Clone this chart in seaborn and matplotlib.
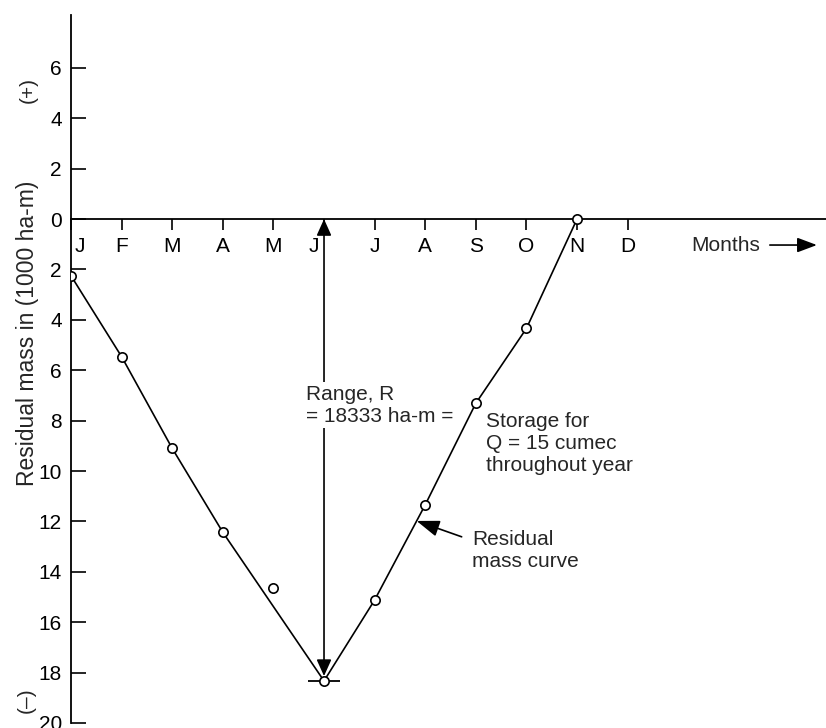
import numpy as np
import pandas as pd
import seaborn as sns
import matplotlib.pyplot as plt
import matplotlib.transforms as mtransforms

# mois (axe x) et courbe des masses résiduelles (1000 ha-m, positif vers le bas)
month_labels = ['J', 'F', 'M', 'A', 'M', 'J', 'J', 'A', 'S', 'O', 'N', 'D']
point_month = [0, 1, 2, 3, 4, 5, 6, 7, 8, 9, 10]
residual_mass = [2.25, 5.46, 9.1, 12.43, 14.63, 18.33, 15.12, 11.34, 7.31, 4.34, 0.0]
on_curve = [True, True, True, True, False, True, True, True, True, True, True]
y_ticks = [-6, -4, -2, 0, 2, 4, 6, 8, 10, 12, 14, 16, 18, 20]

df = pd.DataFrame({'month': point_month, 'mass': residual_mass, 'curve': on_curve})
curve = df[df['curve']]
low = df.loc[df['mass'].idxmax()]

sns.set_style('ticks')
plt.rcParams['font.family'] = ['Liberation Sans', 'DejaVu Sans']
plt.rcParams['font.size'] = 15

fig = plt.figure(figsize=(8.26, 7.28), dpi=100)
ax = fig.add_axes([71 / 826, 5 / 728, 755 / 826, 708 / 728])

sns.lineplot(data=curve, x='month', y='mass', color='black', linewidth=1.2, ax=ax, zorder=3)
sns.scatterplot(data=df, x='month', y='mass', s=45, facecolor='white', edgecolor='black',
                linewidth=1.2, ax=ax, zorder=4)
ax.plot([low['month']], [low['mass']], marker='_', markersize=23, mew=1.3, color='black', zorder=3)

ax.set_xlim(0, 14.92)
ax.set_ylim(20, -8.1)

# axes
for s in ['top', 'right']:
    ax.spines[s].set_visible(False)
ax.spines['bottom'].set_position(('data', 0))
for s in ['left', 'bottom']:
    ax.spines[s].set_linewidth(1.3)
    ax.spines[s].set_color('black')

ax.set_xticks(range(12))
ax.set_xticklabels(month_labels)
ax.tick_params(axis='x', direction='out', length=8, width=1.2, pad=5, labelsize=15, colors='black')
ax.set_yticks(y_ticks)
ax.set_yticklabels([str(abs(v)) for v in y_ticks])
ax.tick_params(axis='y', direction='in', length=11, width=1.2, pad=6.5, labelsize=15, colors='black')
ax.set_xlabel('')
ax.set_ylabel('')

# décaler les étiquettes J (janvier) et J (juin)
xl = ax.get_xticklabels()
xl[0].set_transform(xl[0].get_transform() + mtransforms.ScaledTranslation(0.09, 0, fig.dpi_scale_trans))
xl[5].set_transform(xl[5].get_transform() + mtransforms.ScaledTranslation(-0.10, 0, fig.dpi_scale_trans))

# flèche de la plage R
ax.annotate('', xy=(low['month'], 0), xytext=(low['month'], low['mass']),
            arrowprops=dict(arrowstyle='<|-|>,head_length=1.0,head_width=0.45', color='black',
                            lw=1.2, shrinkA=3.5, shrinkB=0, mutation_scale=10), zorder=2)
ax.text(4.64, 7.38, 'Range, R\n= 18333 ha-m =', ha='left', va='center', linespacing=1.2,
        bbox=dict(facecolor='white', edgecolor='none', pad=2), zorder=5)
ax.text(8.2, 8.89, 'Storage for\nQ = 15 cumec\nthroughout year', ha='left', va='center',
        linespacing=1.2)

ax.annotate('', xy=(6.83, 11.98), xytext=(7.72, 12.61),
            arrowprops=dict(arrowstyle='-|>,head_length=1.4,head_width=0.5', color='black',
                            lw=1.2, shrinkA=0, shrinkB=0, mutation_scale=10))
ax.text(7.925, 13.17, 'Residual\nmass curve', ha='left', va='center', linespacing=1.2)

ax.text(12.25, 1.03, 'Months', ha='left', va='center')
ax.annotate('', xy=(14.74, 1.03), xytext=(13.81, 1.03),
            arrowprops=dict(arrowstyle='-|>,head_length=1.2,head_width=0.45', color='black',
                            lw=1.2, shrinkA=0, shrinkB=0, mutation_scale=10))

fig.text(28 / 826, 1 - 333 / 728, 'Residual mass in (1000 ha-m)', rotation=90,
         ha='center', va='center', fontsize=16.5)
fig.text(28 / 826, 1 - 90 / 728, '(+)', rotation=90, ha='center', va='center', fontsize=15)
fig.text(26 / 826, 1 - 700 / 728, '(–)', rotation=90, ha='center', va='center', fontsize=15)

fig.savefig('out.png', dpi=100)
